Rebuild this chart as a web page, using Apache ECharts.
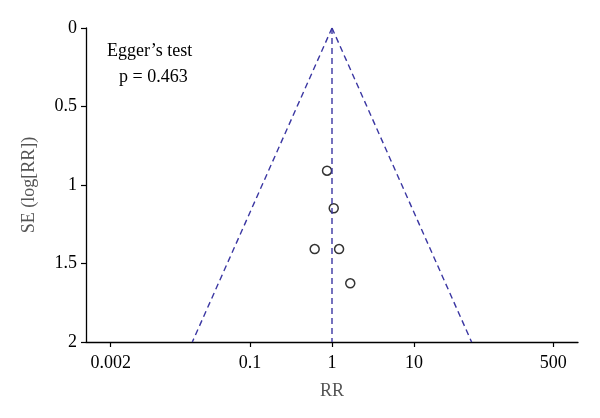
<!DOCTYPE html>
<html>
<head>
<meta charset="utf-8">
<script src="https://cdn.jsdelivr.net/npm/echarts@6/dist/echarts.min.js"></script>
<style>html,body{margin:0;padding:0;background:#fff}#c{width:600px;height:418px}</style>
</head>
<body>
<div id="c"></div>
<script>
// Study estimates (relative risk) and standard errors of log RR
var studyRR = [0.87, 1.05, 0.615, 1.22, 1.67];
var studySE = [0.909, 1.148, 1.408, 1.408, 1.626];
// Funnel (pooled RR = 1, 95% limits)
var funnelLeftRR = [1, 0.0198];
var funnelLeftSE = [0, 2];
var funnelRightRR = [1, 50.4];
var funnelRightSE = [0, 2];
var pooledRR = [1, 1];
var pooledSE = [0, 2];
// Axis ticks
var xTickValues = [0.002, 0.1, 1, 10, 500];
var xTickLabels = ['0.002', '0.1', '1', '10', '500'];
var yTickValues = [0, 0.5, 1, 1.5, 2];

function pairs(xs, ys) { return xs.map(function (x, i) { return [Math.log10(x), ys[i]]; }); }
var xLog = xTickValues.map(function (v) { return Math.log10(v); });

var font = '"Liberation Serif", "DejaVu Serif", serif';
var dashColor = '#3a36a2';
var chart = echarts.init(document.getElementById('c'));
chart.setOption({
  animation: false,
  backgroundColor: '#fff',
  grid: { left: 86, right: 22, top: 28, bottom: 76 },
  xAxis: {
    type: 'value', min: -3, max: 3, position: 'bottom',
    name: 'RR', nameLocation: 'middle', nameGap: 40,
    nameTextStyle: { fontFamily: font, fontSize: 18, color: '#555' },
    axisLine: { show: true, onZero: false, lineStyle: { color: '#000', width: 1.3 } },
    axisTick: { show: true, inside: false, length: 5, customValues: xLog, lineStyle: { color: '#000', width: 1.2 } },
    axisLabel: {
      customValues: xLog, fontFamily: font, fontSize: 18, color: '#000', margin: 12,
      formatter: function (v) {
        for (var i = 0; i < xLog.length; i++) if (Math.abs(xLog[i] - v) < 1e-6) return xTickLabels[i];
        return '';
      }
    },
    splitLine: { show: false }
  },
  yAxis: {
    type: 'value', min: 0, max: 2, interval: 0.5, inverse: true, position: 'left',
    name: 'SE (log[RR])', nameLocation: 'middle', nameGap: 48,
    nameTextStyle: { fontFamily: font, fontSize: 18, color: '#555' },
    axisLine: { show: true, onZero: false, lineStyle: { color: '#000', width: 1.3 } },
    axisTick: { show: true, length: 5, lineStyle: { color: '#000', width: 1.2 } },
    axisLabel: { fontFamily: font, fontSize: 18, color: '#000', margin: 9,
      formatter: function (v) { return String(v); } },
    splitLine: { show: false }
  },
  graphic: [
    { type: 'text', left: 107, top: 42, style: { text: 'Egger\u2019s test', font: '18px ' + font, fill: '#000' } },
    { type: 'text', left: 119, top: 68, style: { text: 'p = 0.463', font: '18px ' + font, fill: '#000' } }
  ],
  series: [
    { type: 'line', data: pairs(funnelLeftRR, funnelLeftSE), symbol: 'none', lineStyle: { color: dashColor, width: 1.4, type: [6, 4] } },
    { type: 'line', data: pairs(funnelRightRR, funnelRightSE), symbol: 'none', lineStyle: { color: dashColor, width: 1.4, type: [6, 4] } },
    { type: 'line', data: pairs(pooledRR, pooledSE), symbol: 'none', lineStyle: { color: dashColor, width: 1.4, type: [6, 4] } },
    { type: 'scatter', data: pairs(studyRR, studySE), symbol: 'circle', symbolSize: 9,
      itemStyle: { color: '#fff', borderColor: '#000', borderWidth: 1.5 } }
  ]
});
</script>
</body>
</html>
